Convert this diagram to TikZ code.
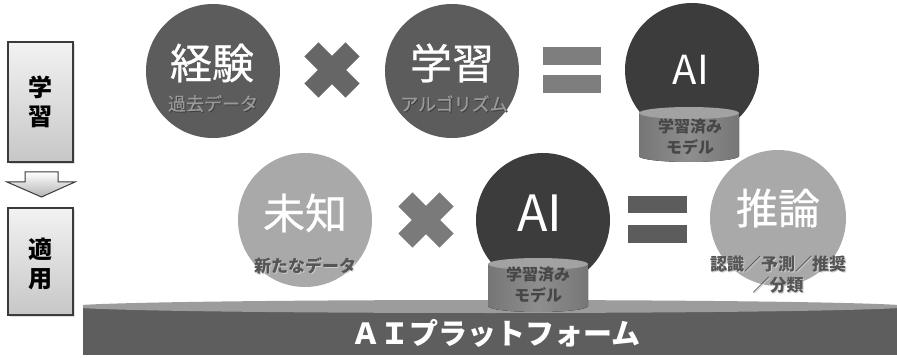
\documentclass[tikz,border=0pt]{standalone}
\usepackage{fontspec}
\setmainfont{Noto Sans CJK JP}
\newfontfamily\jpmed{Noto Sans CJK JP}[FakeBold=0.6]
\usetikzlibrary{calc,shadows}
\definecolor{cmid}{HTML}{5C5C5C}
\definecolor{cdark}{HTML}{3C3C3C}
\definecolor{clight}{HTML}{A9A9A9}
\definecolor{crossA}{HTML}{666666}
\definecolor{crossB}{HTML}{7A7A7A}
\definecolor{eqA}{HTML}{7E7E7E}
\definecolor{eqB}{HTML}{5C5C5C}
\definecolor{sublight}{HTML}{9A9A9A}
\definecolor{subdark}{HTML}{555555}
\definecolor{platdark}{HTML}{5E5E5E}
\definecolor{plattop}{HTML}{9C9C9C}
\definecolor{cylside}{HTML}{767676}
\definecolor{cylmid}{HTML}{8E8E8E}
\definecolor{cyltop}{HTML}{A2A2A2}
\definecolor{cyltext}{HTML}{474747}
\definecolor{boxedge}{HTML}{3A3A3A}
\tikzset{
  bigcirc/.style={circle, minimum size=134pt, inner sep=0pt},
  maintxt/.style={text=white, inner sep=0pt, font=\jpmed\fontsize{42}{42}\selectfont},
  aitxt/.style={text=white, inner sep=0pt},
  subA/.style={text=sublight, inner sep=0pt, font=\jpmed\fontsize{18}{18}\selectfont},
  subAshadow/.style={text=black!75, inner sep=0pt, font=\jpmed\fontsize{18}{18}\selectfont},
  subB/.style={text=subdark, inner sep=0pt, align=center, font=\bfseries\fontsize{17}{21}\selectfont},
  cyltxt/.style={text=cyltext, inner sep=0pt, align=center, font=\bfseries\fontsize{16}{21}\selectfont},
  sidebox/.style={draw=boxedge, line width=1.2pt, top color=white!95!black, bottom color=black!22,
     minimum width=65pt, inner sep=0pt, drop shadow={shadow xshift=2pt, shadow yshift=-2pt, opacity=0.25}},
  sidetxt/.style={text=black, inner sep=0pt, align=center, font=\bfseries\fontsize{24}{29}\selectfont},
  cylbody/.style={left color=cylside, right color=cylside, middle color=cylmid},
}
\begin{document}
\begin{tikzpicture}[x=1pt,y=-1pt]
\fill[white] (0,0) rectangle (897,358);
\useasboundingbox (0,0) rectangle (897,358);

% ---- side boxes and arrow
\node[sidebox, minimum height=120pt] (boxL) at (40.5,102) {};
\node[sidetxt] (boxLt) at (40.5,102) {学\\習};
\node[sidebox, minimum height=107pt] (boxA) at (40.5,261.5) {};
\node[sidetxt] (boxAt) at (40.5,264) {適\\用};
\draw[boxedge, line width=1pt, top color=white, bottom color=black!30, line join=miter]
  (25,172) -- (58,172) -- (58,182) -- (75,182) -- (41.5,197) -- (7,182) -- (25,182) -- cycle;

% ---- row 1
\node[bigcirc, fill=cmid] (kei) at (213,71) {};
\node[maintxt] (keit) at (212,63) {経験};
\node[subAshadow] (keis0) at (214,104.5) {過去データ};
\node[subA] (keis) at (213,103.5) {過去データ};

\coordinate (x1) at (332,70);
\fill[crossA, rotate around={45:(x1)}] ($(x1)+(-29pt,-10pt)$) rectangle ($(x1)+(29pt,10pt)$);
\fill[crossA, rotate around={-45:(x1)}] ($(x1)+(-29pt,-10pt)$) rectangle ($(x1)+(29pt,10pt)$);

\node[bigcirc, fill=cmid] (gak) at (452,71) {};
\node[maintxt] (gakt) at (452,63) {学習};
\node[subAshadow] (gaks0) at (455,104.5) {アルゴリズム};
\node[subA] (gaks) at (454,103.5) {アルゴリズム};

\fill[eqA] (543,47) rectangle (601,65);
\fill[eqA] (543,75) rectangle (601,93);

\node[bigcirc, fill=cdark] (ai1) at (692,70) {};
\node[aitxt, font=\fontsize{40}{40}\selectfont] (ai1t) at (691,70) {AI};

\coordinate (cyl1) at (689,113);
\fill[cylbody] ($(cyl1)+(-50pt,0)$) -- ($(cyl1)+(-50pt,-43pt)$) arc[start angle=180, end angle=360, x radius=50pt, y radius=6pt] -- ($(cyl1)+(50pt,0)$) -- cycle;
\fill[cyltop] (cyl1) ellipse[x radius=50pt, y radius=6pt];
\node[cyltxt] (cyl1t) at (690,137) {学習済み\\モデル};

% ---- platform
\begin{scope}
\clip (83,0) rectangle (897,358);
\fill[platdark] (83,306.5) rectangle (897,355);
\fill[plattop] (490,306.5) ellipse[x radius=420pt, y radius=6.5pt];
\end{scope}
\node[text=white, inner sep=0pt, font=\bfseries\fontsize{29}{29}\selectfont] (plat) at (496,333) {ＡＩプラットフォーム};

% ---- row 2
\node[bigcirc, fill=clight] (mic) at (305,220) {};
\node[maintxt] (mict) at (305,213) {未知};
\node[subB, text=white!80!black] (mics0) at (306,267) {新たなデータ};
\node[subB] (mics) at (305,266) {新たなデータ};

\coordinate (x2) at (426,220);
\fill[crossB, rotate around={45:(x2)}] ($(x2)+(-29pt,-10pt)$) rectangle ($(x2)+(29pt,10pt)$);
\fill[crossB, rotate around={-45:(x2)}] ($(x2)+(-29pt,-10pt)$) rectangle ($(x2)+(29pt,10pt)$);

\node[bigcirc, fill=cdark] (ai2) at (543,220) {};
\node[aitxt, font=\fontsize{50}{50}\selectfont] (ai2t) at (540,213) {AI};

\coordinate (cyl2) at (538,264);
\fill[cylbody] ($(cyl2)+(-50pt,0)$) -- ($(cyl2)+(-50pt,-42pt)$) arc[start angle=180, end angle=360, x radius=50pt, y radius=6pt] -- ($(cyl2)+(50pt,0)$) -- cycle;
\fill[cyltop] (cyl2) ellipse[x radius=50pt, y radius=6pt];
\node[cyltxt] (cyl2t) at (538,285) {学習済み\\モデル};

\fill[eqB] (628,196) rectangle (687,213);
\fill[eqB] (628,225) rectangle (687,243);

\node[bigcirc, minimum size=136pt, fill=clight] (sui) at (778,218) {};
\node[maintxt] (suit) at (778,208) {推論};
\node[subB, text=white!80!black] (suis0) at (779,276) {認識／予測／推奨\\／分類};
\node[subB] (suis) at (778,275) {認識／予測／推奨\\／分類};
\end{tikzpicture}
\end{document}
